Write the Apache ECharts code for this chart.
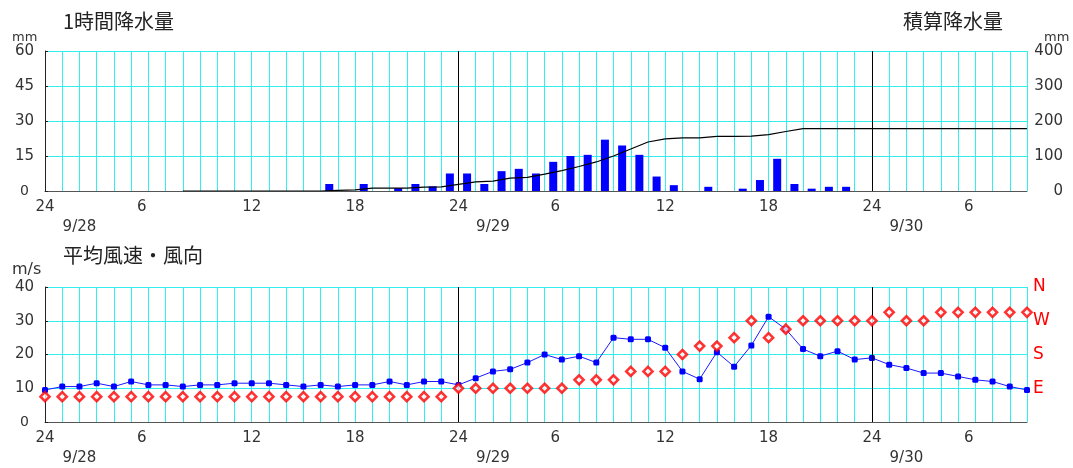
<!DOCTYPE html>
<html><head><meta charset="utf-8">
<script src="https://cdn.jsdelivr.net/npm/echarts@6/dist/echarts.min.js"></script>
<style>html,body{margin:0;padding:0;background:#fff}#c{width:1073px;height:468px}</style>
</head><body><div id="c"></div>
<script>
// hours counted from 9/28 00:00
const axisMaxHour = 57;
const dayLineHours = [24, 48];
const dateLabels = {2: '9/28', 26: '9/29', 50: '9/30'};

// 1-hour precipitation (mm), by hour ending
const precipHourEnd = [17, 19, 21, 22, 23, 24, 25, 26, 27, 28, 29, 30, 31, 32, 33, 34, 35, 36, 37, 39, 41, 42, 43, 44, 45, 46, 47];
const precipMm      = [3, 3, 1.2, 3, 2, 7.5, 7.5, 3, 8.5, 9.5, 7.5, 12.5, 15, 15.5, 22, 19.5, 15.5, 6.2, 2.5, 1.8, 1, 4.7, 13.8, 3, 1, 1.8, 1.8];

// cumulative precipitation (mm), hourly from hour 8
const cumStartHour = 8;
const cumMm = [0, 0, 0, 0, 0, 0, 0, 0, 0, 2, 3, 8, 8, 8, 11, 12, 19, 26, 28, 37, 39, 48, 58, 70, 83, 100, 120, 140, 149, 152, 152, 156, 156, 157, 161, 170, 178, 178, 178, 178, 178, 178, 178, 178, 178, 178, 178, 178, 178, 178];

// mean wind speed (m/s), hourly from hour 0
const windSpeed = [9.5, 10.5, 10.5, 11.5, 10.5, 12, 11, 11, 10.5, 11, 11, 11.5, 11.5, 11.5, 11, 10.5, 11, 10.5, 11, 11, 12, 11, 12, 12,
  11, 13, 15, 15.6, 17.6, 20, 18.5, 19.5, 17.6, 25, 24.5, 24.5, 22, 15, 12.7, 20.7, 16.4, 22.7, 31.2, 27.5, 21.6, 19.5, 21, 18.5,
  19, 17, 16, 14.5, 14.5, 13.5, 12.5, 12, 10.5, 9.5];

// wind direction (16 points), hourly from hour 0
const windDir = ['ENE','ENE','ENE','ENE','ENE','ENE','ENE','ENE','ENE','ENE','ENE','ENE','ENE','ENE','ENE','ENE','ENE','ENE','ENE','ENE','ENE','ENE','ENE','ENE',
  'E','E','E','E','E','E','E','ESE','ESE','ESE','SE','SE','SE','S','SSW','SSW','SW','W','SW','WSW','W','W','W','W',
  'W','WNW','W','W','WNW','WNW','WNW','WNW','WNW','WNW'];
const dirOrder = ['ENE','E','ESE','SE','SSE','S','SSW','SW','WSW','W','WNW','NW','NNW','N'];
const dirAxisLabels = {10: 'E', 20: 'S', 30: 'W', 40: 'N'};

const precipTicks = {min: 0, max: 60, interval: 15};
const cumTicks = {min: 0, max: 400, interval: 100};
const windTicks = {min: 0, max: 40, interval: 10};

const FONT = 'DejaVu Sans';
const CJK = 'Noto Sans CJK JP';
const CYAN = '#33eeee';

function hourLabel(v) {
  const h = Math.round(v);
  if (h % 6 === 0) {
    const t = h % 24 === 0 ? '24' : String(h % 24);
    return t.length === 1 ? '{s|' + t + '}' : '{h|' + t + '}';
  }
  if (dateLabels[h]) return '\n{d|' + dateLabels[h] + '}';
  return '';
}

function xAxisDef(gi) {
  return {
    type: 'value', gridIndex: gi, min: 0, max: axisMaxHour, interval: 1,
    axisLine: {show: true, lineStyle: {color: '#555', width: 1}},
    axisTick: {show: false},
    splitLine: {show: true, lineStyle: {color: CYAN, width: 1}},
    axisLabel: {
      show: true, margin: 6, formatter: hourLabel, color: '#333', fontFamily: FONT, fontSize: 15, lineHeight: 20,
      hideOverlap: false, showMinLabel: true, showMaxLabel: true,
      rich: {
        h: {fontFamily: FONT, fontSize: 15, color: '#333', lineHeight: 20},
        s: {fontFamily: FONT, fontSize: 15, color: '#333', lineHeight: 20, padding: [0, 13, 0, 0]},
        d: {fontFamily: FONT, fontSize: 15, color: '#333', lineHeight: 20}
      }
    }
  };
}

function leftY(gi, t) {
  return {
    type: 'value', gridIndex: gi, position: 'left', min: t.min, max: t.max, interval: t.interval,
    axisLine: {show: true, lineStyle: {color: '#222', width: 1}},
    axisTick: {show: true, inside: true, length: 3, lineStyle: {color: '#222'}},
    splitLine: {show: true, lineStyle: {color: CYAN, width: 1, opacity: 1}},
    axisLabel: {
      margin: 11, color: '#333', fontFamily: FONT, fontSize: 15,
      formatter: v => v === 0 ? '{z|0}' : String(v),
      rich: {z: {fontFamily: FONT, fontSize: 14, color: '#333', padding: [0, 5, 0, 0]}}
    }
  };
}

const barData = precipHourEnd.map((h, i) => [h - 0.5, precipMm[i]]);
const cumData = cumMm.map((v, i) => [cumStartHour + i, v]);
const speedData = windSpeed.map((v, i) => [i, v]);
const dirData = windDir.map((d, i) => [i, 7.5 + 2.5 * dirOrder.indexOf(d)]);

const dayMark = {
  silent: true, symbol: 'none', animation: false,
  lineStyle: {color: '#000', width: 1, type: 'solid'},
  label: {show: false},
  data: dayLineHours.map(h => ({xAxis: h}))
};

const chart = echarts.init(document.getElementById('c'), null, {renderer: 'canvas'});
chart.setOption({
  animation: false,
  backgroundColor: '#fff',
  grid: [
    {left: 45, right: 46, top: 51, height: 140},
    {left: 45, right: 46, top: 287, height: 136}
  ],
  xAxis: [xAxisDef(0), xAxisDef(1)],
  yAxis: [
    leftY(0, precipTicks),
    {
      type: 'value', gridIndex: 0, position: 'right', min: cumTicks.min, max: cumTicks.max, interval: cumTicks.interval,
      axisLine: {show: false}, axisTick: {show: false}, splitLine: {show: false},
      axisLabel: {margin: 36, align: 'right', color: '#333', fontFamily: FONT, fontSize: 15}
    },
    leftY(1, windTicks),
    {
      type: 'value', gridIndex: 1, position: 'right', min: windTicks.min, max: windTicks.max, interval: windTicks.interval,
      axisLine: {show: false}, axisTick: {show: false}, splitLine: {show: false},
      axisLabel: {margin: 6, color: '#ff0000', fontFamily: FONT, fontSize: 17,
        formatter: v => dirAxisLabels[v] || ''}
    }
  ],
  series: [
    {
      type: 'bar', xAxisIndex: 0, yAxisIndex: 0, data: barData, barWidth: 8,
      itemStyle: {color: '#0000ff'}, markLine: dayMark, z: 3
    },
    {
      type: 'line', xAxisIndex: 0, yAxisIndex: 1, data: cumData, symbol: 'none',
      lineStyle: {color: '#000', width: 1.2}, z: 4
    },
    {
      type: 'line', xAxisIndex: 1, yAxisIndex: 2, data: speedData, symbol: 'roundRect', symbolSize: 6,
      itemStyle: {color: '#0000ff'}, lineStyle: {color: '#1a1aff', width: 1}, markLine: dayMark, z: 4
    },
    {
      type: 'scatter', xAxisIndex: 1, yAxisIndex: 2, data: dirData, symbol: 'diamond', symbolSize: 9,
      itemStyle: {color: '#fff', borderColor: '#ff0000', borderWidth: 2.6}, z: 5
    }
  ],
  graphic: [
    {type: 'text', left: 63, top: 11, style: {text: '1時間降水量', font: '20px "' + CJK + '"', fill: '#222'}},
    {type: 'text', left: 903, top: 11, style: {text: '積算降水量', font: '20px "' + CJK + '"', fill: '#222'}},
    {type: 'text', left: 63, top: 245, style: {text: '平均風速・風向', font: '20px "' + CJK + '"', fill: '#222'}},
    {type: 'text', left: 12, top: 31, style: {text: 'mm', font: '13px "' + FONT + '"', fill: '#333'}},
    {type: 'text', left: 1044, top: 31, style: {text: 'mm', font: '13px "' + FONT + '"', fill: '#333'}},
    {type: 'text', left: 12, top: 262, style: {text: 'm/s', font: '16px "' + FONT + '"', fill: '#333'}}
  ]
});
</script></body></html>
